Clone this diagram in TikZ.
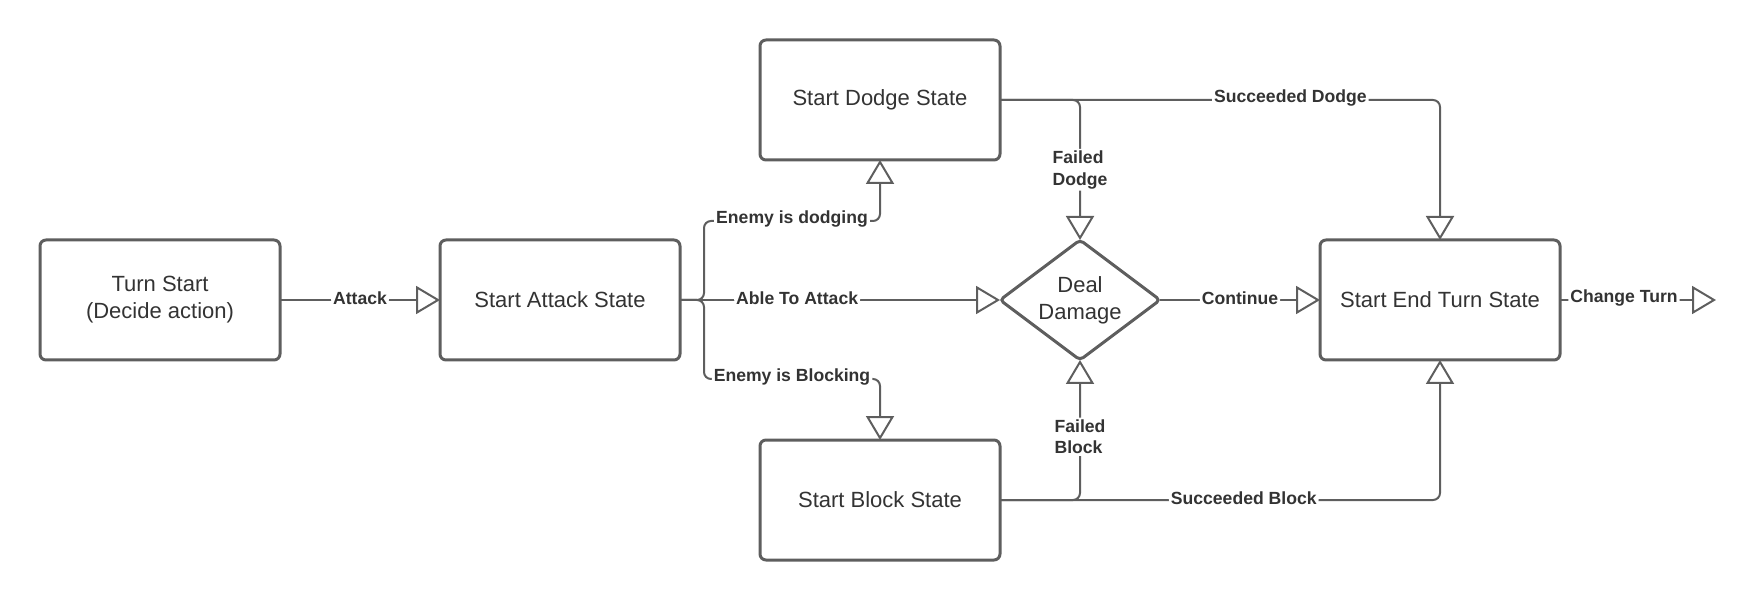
\documentclass[tikz,border=0pt]{standalone}
\usepackage{fontspec}
\setmainfont{Liberation Sans}
\usetikzlibrary{positioning}
\usetikzlibrary{shapes.geometric}
\usetikzlibrary{arrows.meta}
\definecolor{linegray}{HTML}{5E5E5E}
\definecolor{textgray}{HTML}{333333}
\tikzset{
	state/.style={draw=linegray,line width=1.5pt,rounded corners=3pt,outer sep=0pt,minimum width=120pt,minimum height=60pt,align=center,text=textgray,font=\fontsize{11}{13.5}\selectfont},
	decision/.style={diamond,draw=linegray,line width=1.5pt,rounded corners=2pt,outer sep=0pt,minimum width=80pt,minimum height=60pt,aspect=1.33,inner sep=0pt,align=center,text=textgray,font=\fontsize{11}{13.5}\selectfont},
	flow/.style={draw=linegray,line width=1pt,rounded corners=3.5pt,-{Triangle[open,length=12pt,width=14pt,line width=1pt]}},
	lbl/.style={fill=white,inner sep=1pt,yshift=0.8pt,text=textgray,font=\fontsize{8.8}{10.7}\selectfont\bfseries}
}

\begin{document}
\begin{tikzpicture}
	\useasboundingbox (0pt,0pt) rectangle (880pt,300pt);
	\node[state] at (80pt,150pt) (start) {Turn Start\\(Decide action)};
	\node[state,right=80pt of start] (attack) {Start Attack State};
	\node[state,above right=40pt and 40pt of attack] (dodge) {Start Dodge State};
	\node[state,below right=40pt and 40pt of attack] (block) {Start Block State};
	\node[decision,right=160pt of attack] (deal) {Deal\\Damage};
	\node[state,right=80pt of deal] (endturn) {Start End Turn State};
	\coordinate[right=12pt of attack] (fork);
	\coordinate[right=78pt of endturn] (next);
	
	\draw[flow] (start) -- node[lbl] {Attack} (attack);
	\draw[flow] (attack.east) -- (fork) |- node[lbl,pos=0.75] {Enemy is dodging} ([yshift=-30.5pt]dodge.south) -- (dodge.south);
	\draw[flow] (attack.east) -- (fork) |- node[lbl,pos=0.75] {Enemy is Blocking} ([yshift=30.5pt]block.north) -- (block.north);
	\draw[flow] (attack.east) -- node[lbl,pos=0.366] {Able To Attack} (deal.west);
	\draw[flow] (dodge.east) -| node[lbl,pos=0.755,align=left] {Failed\\Dodge} (deal.north);
	\draw[flow] (dodge.east) -| node[lbl,pos=0.33] {Succeeded Dodge} (endturn.north);
	\draw[flow] (block.east) -| node[lbl,pos=0.72,align=left] {Failed\\Block} (deal.south);
	\draw[flow] (block.east) -| node[lbl,pos=0.277] {Succeeded Block} (endturn.south);
	\draw[flow] (deal) -- node[lbl] {Continue} (endturn);
	\draw[flow] (endturn) -- node[lbl,pos=0.41] {Change Turn} (next);
\end{tikzpicture}
\end{document}
